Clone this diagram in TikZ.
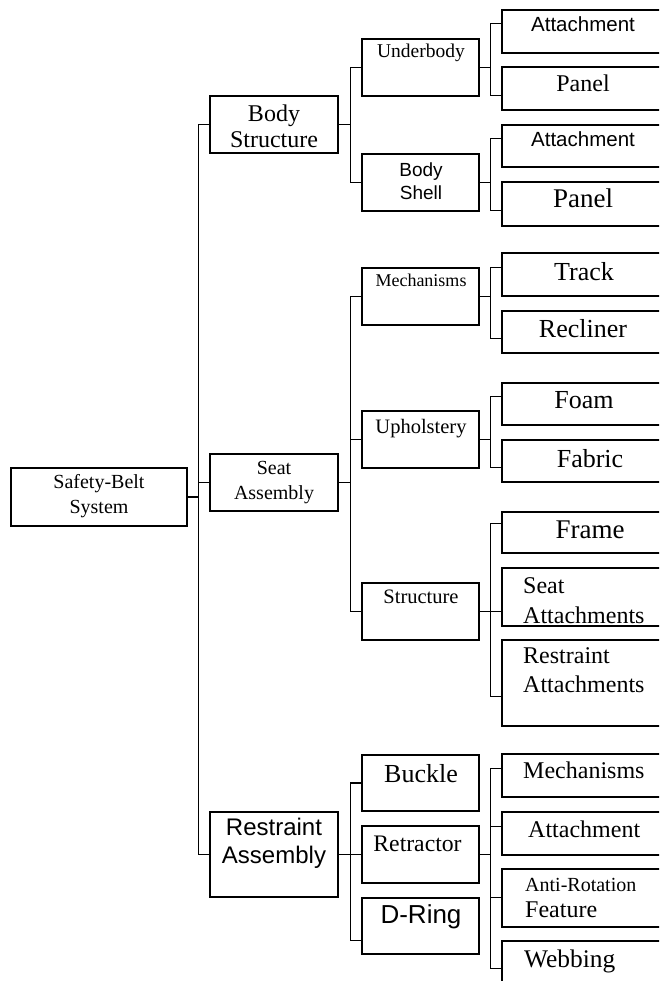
\documentclass[tikz,border=0pt]{standalone}
\usepackage{fontspec}
\setmainfont{Liberation Serif}
\newfontfamily\arialfont{Liberation Sans}
\tikzset{
    box/.style={rectangle, draw, line width=1.2pt, inner sep=0pt},
    rootbox/.style={box, minimum width=176pt, minimum height=58pt},
    groupbox/.style={box, minimum width=128pt, minimum height=57pt},
    partbox/.style={box, minimum width=117pt, minimum height=57pt},
    leafbox/.style={box, minimum width=162pt, minimum height=#1},
    link/.style={line width=1.2pt},
    txt/.style={inner sep=0pt, anchor=base, align=center},
    ltxt/.style={inner sep=0pt, anchor=base west, align=left},
    rm/.style 2 args={font=\fontsize{#1}{#2}\selectfont},
    ar/.style 2 args={font=\arialfont\fontsize{#1}{#2}\selectfont}
}

\begin{document}
\begin{tikzpicture}[x=1pt, y=-1pt]
    \useasboundingbox (0,0) rectangle (659,981);
    \clip (0,0) rectangle (659,981);

    % boxes
    \node[rootbox] (root) at (99,497) {};
    \node[groupbox] (bs) at (274,124.5) {};
    \node[groupbox] (sa) at (274,482.5) {};
    \node[groupbox, minimum height=85pt] (ra) at (274,854.5) {};

    \node[partbox] (ub) at (420.5,67.5) {};
    \node[partbox] (bsh) at (420.5,182.5) {};
    \node[partbox] (mc) at (420.5,296.5) {};
    \node[partbox] (uph) at (420.5,439.5) {};
    \node[partbox] (st) at (420.5,611.5) {};
    \node[partbox, minimum height=56pt] (bk) at (420.5,783) {};
    \node[partbox] (rt) at (420.5,854.5) {};
    \node[partbox, minimum height=56pt] (dr) at (420.5,926) {};

    \node[leafbox=43pt] (ubA) at (583,31.5) {};
    \node[leafbox=43pt] (ubP) at (583,88.5) {};
    \node[leafbox=42pt] (bsA) at (583,146) {};
    \node[leafbox=44pt] (bsP) at (583,204) {};
    \node[leafbox=43pt] (trk) at (583,274.5) {};
    \node[leafbox=42pt] (rcl) at (583,332) {};
    \node[leafbox=42pt] (fom) at (583,404) {};
    \node[leafbox=42pt] (fab) at (583,461) {};
    \node[leafbox=41pt] (frm) at (583,532.5) {};
    \node[leafbox=58pt] (sat) at (583,597) {};
    \node[leafbox=86pt] (rat) at (583,683) {};
    \node[leafbox=43pt] (mch) at (583,775.5) {};
    \node[leafbox=43pt] (att) at (583,833.5) {};
    \node[leafbox=58pt] (arf) at (583,898) {};
    \node[leafbox=57pt] (web) at (583,969.5) {};

    % labels (multi-line ones sit on their last baseline)
    \node[txt, rm={20}{25}] (rootT) at (99,513) {Safety-Belt\\System};
    \node[txt, rm={24}{26}] (bsT) at (274,148) {Body\\Structure};
    \node[txt, rm={20}{25}] (saT) at (274,499) {Seat\\Assembly};
    \node[txt, ar={24}{28}] (raT) at (274,863) {Restraint\\Assembly};

    \node[txt, rm={19.5}{23}] (ubT) at (421,58) {Underbody};
    \node[txt, ar={19}{23}] (bshT) at (421,200) {Body\\Shell};
    \node[txt, rm={18}{22}] (mcT) at (421,287) {Mechanisms};
    \node[txt, rm={20.5}{24}] (uphT) at (421,433) {Upholstery};
    \node[txt, rm={20.5}{24}] (stT) at (421,603) {Structure};
    \node[txt, rm={26}{30}] (bkT) at (421,782) {Buckle};
    \node[txt, rm={23.7}{28}] (rtT) at (417.5,851) {Retractor};
    \node[txt, ar={26}{30}] (drT) at (421,923) {D-Ring};

    \node[txt, ar={20.5}{24}] (ubAT) at (583,32) {Attachment};
    \node[txt, rm={24}{28}] (ubPT) at (583,92) {Panel};
    \node[txt, ar={20.5}{24}] (bsAT) at (583,147) {Attachment};
    \node[txt, rm={27}{31}] (bsPT) at (583,208) {Panel};
    \node[txt, rm={26}{30}] (trkT) at (584,280) {Track};
    \node[txt, rm={26}{30}] (rclT) at (583,337) {Recliner};
    \node[txt, rm={26}{30}] (fomT) at (584,408) {Foam};
    \node[txt, rm={26}{30}] (fabT) at (590,467) {Fabric};
    \node[txt, rm={27}{31}] (frmT) at (590,538) {Frame};
    \node[ltxt, rm={24}{30}] (satT) at (523,623) {Seat\\Attachments};
    \node[ltxt, rm={24}{29}] (ratT) at (523,692) {Restraint\\Attachments};
    \node[ltxt, rm={24}{28}] (mchT) at (523,778) {Mechanisms};
    \node[ltxt, rm={24}{28}] (attT) at (528,837) {Attachment};
    \node[ltxt, rm={24}{26}] (arfT) at (525,917) {{\fontsize{20}{26}\selectfont Anti-Rotation}\\Feature};
    \node[ltxt, rm={25.4}{29}] (webT) at (524,967) {Webbing};

    % connectors
    \draw[link] (root.east) -- ++(11,0) coordinate (rootJ);
    \draw[link] (rootJ) |- (bs.west);
    \draw[link] (rootJ) |- (sa.west);
    \draw[link] (rootJ) |- (ra.west);

    \draw[link] (bs.east) -- ++(12,0) coordinate (bsJ);
    \draw[link] (bsJ) |- (ub.west);
    \draw[link] (bsJ) |- (bsh.west);
    \draw[link] (sa.east) -- ++(12,0) coordinate (saJ);
    \draw[link] (saJ) |- (mc.west);
    \draw[link] (saJ) |- (uph.west);
    \draw[link] (saJ) |- (st.west);
    \draw[link] (ra.east) -- ++(12,0) coordinate (raJ);
    \draw[link] (raJ) |- (bk.west);
    \draw[link] (raJ) |- (rt.west);
    \draw[link] (raJ) |- ([yshift=-43pt]dr.north west);

    \draw[link] (ub.east) -- ++(11,0) coordinate (ubJ);
    \draw[link] (ubJ) |- ([yshift=-14pt]ubA.north west);
    \draw[link] (ubJ) |- ([yshift=-29pt]ubP.north west);
    \draw[link] (bsh.east) -- ++(11,0) coordinate (bshJ);
    \draw[link] (bshJ) |- ([yshift=-14pt]bsA.north west);
    \draw[link] (bshJ) |- ([yshift=-29pt]bsP.north west);
    \draw[link] (mc.east) -- ++(11,0) coordinate (mcJ);
    \draw[link] (mcJ) |- ([yshift=-15pt]trk.north west);
    \draw[link] (mcJ) |- ([yshift=-28pt]rcl.north west);
    \draw[link] (uph.east) -- ++(11,0) coordinate (uphJ);
    \draw[link] (uphJ) |- ([yshift=-14pt]fom.north west);
    \draw[link] (uphJ) |- ([yshift=-28pt]fab.north west);
    \draw[link] (st.east) -- ++(11,0) coordinate (stJ);
    \draw[link] (stJ) |- ([yshift=-12pt]frm.north west);
    \draw[link] (stJ) |- ([yshift=-44pt]sat.north west);
    \draw[link] (stJ) |- ([yshift=-57pt]rat.north west);
    \draw[link] (rt.east) -- ++(11,0) coordinate (rtJ);
    \draw[link] (rtJ) |- ([yshift=-15pt]mch.north west);
    \draw[link] (rtJ) |- ([yshift=-15pt]att.north west);
    \draw[link] (rtJ) |- ([yshift=-29pt]arf.north west);
    \draw[link] (rtJ) |- ([yshift=-28pt]web.north west);
\end{tikzpicture}
\end{document}
